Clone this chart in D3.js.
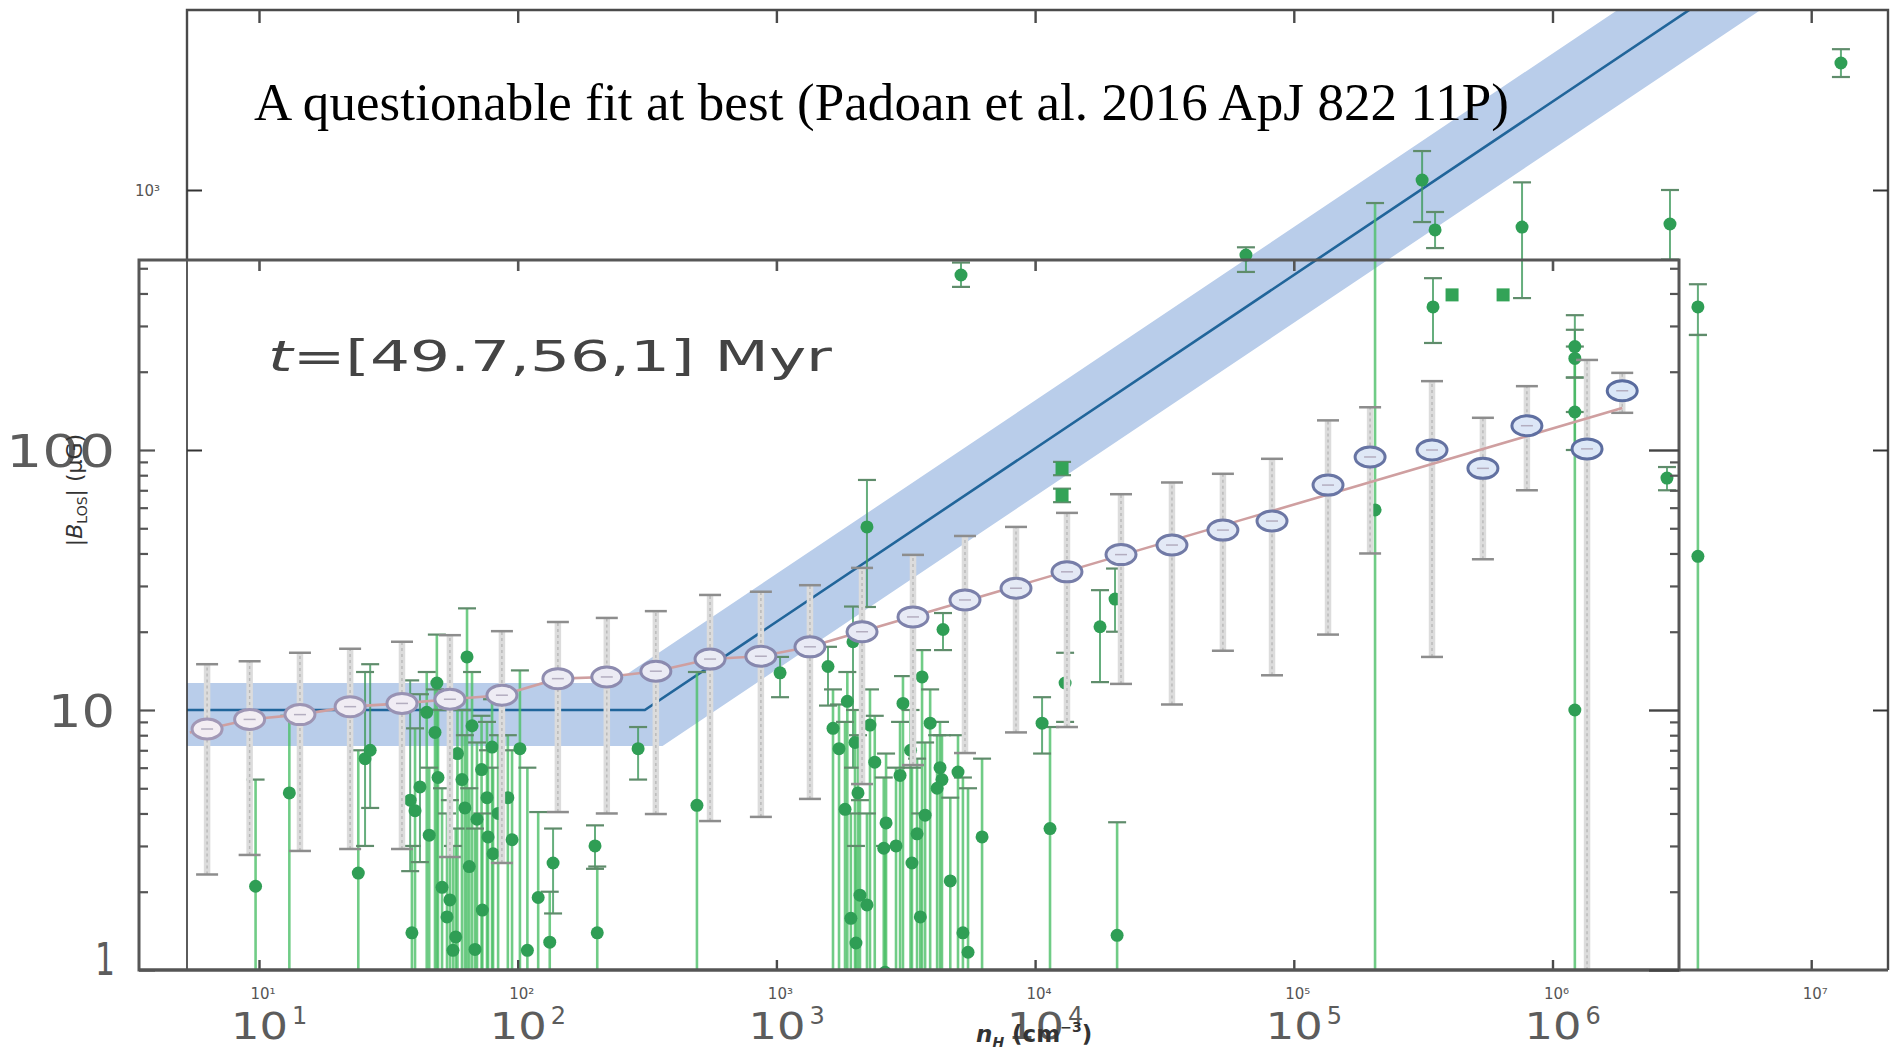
<!DOCTYPE html>
<html><head><meta charset="utf-8">
<script src="https://cdn.jsdelivr.net/npm/d3@7"></script>
<style>body{margin:0;background:#fff}svg{display:block}</style>
</head><body>
<svg id="c" width="1890" height="1055"></svg>
<script>
// ---------------- DATA ----------------
const xDecades = [10, 100, 1e3, 1e4, 1e5, 1e6, 1e7];
const xSmallLabels = ["10\u00B9","10\u00B2","10\u00B3","10\u2074","10\u2075","10\u2076","10\u2077"];
const xBigExps = ["1","2","3","4","5","6"];
const yBigValues = [1, 10, 100];
const yBigLabels = ["1","10","100"];
const yOuterLabelValues = [1000];
const yOuterLabels = ["10\u00B3"];
const yMinorTicks = [2,3,4,5,6,7,8,9,20,30,40,50,60,70,80,90,200,300,400,500];
const yMajorTicks = [1,10,100];

// binned simulation medians (n_H, |B_LOS|, lower, upper)
const binN  = [6.3,9.2,14.4,22.5,35.7,54.7,86.9,143,221,342,554,871,1348,2143,3373,5357,8437,13280,21480,33810,53210,82380,135600,197200,342200,538300,796300,1360000,1860000];
const binB  = [8.45,9.2,9.6,10.3,10.6,11.0,11.4,13.2,13.4,14.1,15.7,16.1,17.5,20.0,22.8,26.5,29.4,34.0,39.6,43.1,49.2,53.3,73.3,94,100,85,124,101,169];
const binLo = [2.33,2.77,2.87,2.92,2.92,2.72,2.58,4.05,4.0,3.98,3.74,3.88,4.55,5.19,6.14,6.83,8.2,8.6,12.6,10.5,16.9,13.6,19.5,40,16,38,70,0.5,139];
const binHi = [15.0,15.4,16.6,17.2,18.3,19.4,20.1,21.8,22.6,24.0,27.7,28.5,30.2,35.2,39.5,46.7,50.6,57.3,67.6,75,81,92.5,130,146,184,133,176,222,198];

// pink fit through the medians
const pinkN = [5.4,6.3,9.2,14.4,22.5,35.7,54.7,86.9,143,221,342,554,871,1348,1860000];
const pinkB = [8.2,8.45,9.2,9.6,10.3,10.6,11.0,11.4,13.2,13.4,14.1,15.7,16.1,17.5,145];

// Crutcher-type broken power law and its band
const fitN = [5, 310, 1e7];
const fitB = [10, 10, 10160];
const bandUpperN = [5, 235, 1e7];
const bandUpperB = [12.7, 12.7, 15550];
const bandLowerN = [5, 363, 1e7];
const bandLowerB = [7.27, 7.27, 6650];

// Zeeman observations (green)
const greenN  = [9.7,13.1,24.2,25.7,26.9,38.4,39,40.1,41.9,48.7,47.9,49.2,51,53.3,56.2,63.7,66.6,68.4,60.9,62.5,69.6,76.1,76.8,79.6,80.3,54.7,57.6,95.1,91.6,102,109,120,137,133,199,203,292,493,1033,2239,1583,1655,1746,1842,1977,2067,1940,2104,2239,2030,2300,2013,2654,2600,2630,3006,3085,3342,3497,3656,3757,3929,4290,4365,4181,5035,4406,5260,5505,6237,10640,11420,13060,17820,20750,20370,12710,12710,5171,65310,206100,313300,351600,345200,409000,644200,762500,1220000,1220000,1220000,1220000,2845000,3648000,3648000,13030000,2770000,
                 44.5,58.5,72.5,84,45.5,65,73,1880,2400,2900,3600,4700,3300];
const greenB  = [2.1,4.8,2.36,6.5,7.0,4.5,1.39,4.1,5.06,12.7,8.2,5.5,2.08,1.6,1.19,16.0,8.7,1.2,5.4,4.2,3.8,4.6,3.25,7.2,2.8,1.86,1.34,3.17,4.6,7.1,1.19,1.9,2.58,1.28,3.0,1.39,7.1,4.3,13.9,50.6,14.7,8.5,7.1,4.15,18.3,4.8,1.58,1.94,1.78,1.27,8.75,7.5,3.68,2.94,0.98,5.6,10.6,2.58,3.34,13.4,3.94,8.9,6.0,5.4,5.0,5.77,20.4,1.39,1.17,3.25,8.9,3.5,12.7,20.9,1.36,26.7,85,67,471,562,58.8,1092,702,355,395,395,720,250,225,140,10,740,355,39,3080,78,
                 9.8,6.8,5.9,4.0,3.3,2.5,1.7,10.8,6.3,3.0,1.6,2.2,7.0];
const greenLo = [0.5,0.5,0.5,3.0,4.2,2.4,0.5,0.5,2.6,0.5,0.5,0.5,0.5,0.5,0.5,0.5,0.5,0.5,0.5,0.5,0.5,0.5,0.5,0.5,0.5,0.5,0.5,0.5,0.5,0.5,0.5,0.5,1.65,0.5,2.45,0.5,5.4,0.5,11.2,24.9,10.4,0.5,0.5,0.5,6,0.5,0.5,0.5,0.5,0.5,0.5,0.5,0.5,0.5,0.5,0.5,0.5,0.5,0.5,0.5,0.5,0.5,0.5,0.5,0.5,0.5,17,0.5,0.5,0.5,6.8,0.5,9.0,12.8,0.5,20,80,63,424,484,0.5,753,598,258,395,395,384,190,140,100,0.5,540,277,0.5,2720,70,
                 0.5,0.5,0.5,0.5,0.5,0.5,0.5,0.5,0.5,0.5,0.5,0.5,0.5];
const greenHi = [5.4,9.5,7,14,15,13,3.0,8.5,11.5,19.5,12,10,5,4,3,24.6,14,3.5,10,8,7.5,9,7,11,6,4.5,3.5,7,8,14.2,6,4.05,3.5,2.0,3.6,2.5,8.6,14,16,76.7,17.5,12,10.5,9,25,8,4,4.5,4,3,12,10,6.8,5.5,3.0,9,13.5,6,6.5,17,7.5,12,9,8,8,8,23.6,5.5,5,6.5,11.2,8.6,16.6,28.9,3.7,35,90,71,526,602,891,1412,823,458,395,395,1070,330,290,190,250,1000,434,277,3480,86,
                 14,11,9.5,8,6,5,4,14,9.5,6,4,4.6,10];
const greenSquare = [76,77,84,85];

// texts
const titleText = "A questionable fit at best (Padoan et al. 2016 ApJ 822 11P)";
const timeText = "t=[49.7,56,1] Myr";

// ---------------- LAYOUT ----------------
const svg = d3.select("#c");
const x = d3.scaleLog().domain([10, 1e7]).range([259, 1811.2]);
const y = d3.scaleLog().domain([1, 1000]).range([970, 190]);
const outer = {l:187, r:1888, t:10, b:970};
const inner = {l:139, r:1679, t:260, b:970};

const defs = svg.append("defs");
defs.append("clipPath").attr("id","clipOuter").append("rect")
  .attr("x",outer.l).attr("y",outer.t).attr("width",outer.r-outer.l).attr("height",outer.b-outer.t);
defs.append("clipPath").attr("id","clipInner").append("rect")
  .attr("x",inner.l).attr("y",inner.t).attr("width",inner.r-inner.l).attr("height",inner.b-inner.t);

svg.append("rect").attr("width",1890).attr("height",1055).attr("fill","#fff");

const gO = svg.append("g").attr("clip-path","url(#clipOuter)");
// band
const bandPts = bandUpperN.map((n,i)=>[x(n), y(bandUpperB[i])])
  .concat(bandLowerN.map((n,i)=>[x(n), y(bandLowerB[i])]).reverse());
gO.append("path").attr("d", d3.line()(bandPts)+"Z").attr("fill","#b9cdea");
// fit line
gO.append("path").attr("d", d3.line().x((d,i)=>x(fitN[i])).y((d,i)=>y(fitB[i]))(fitN))
  .attr("fill","none").attr("stroke","#21659a").attr("stroke-width",2.6);

// green error bars
const gi = d3.range(greenN.length);
const gG = gO.append("g");
gG.selectAll("line.eb").data(gi.filter(i=>greenHi[i]>greenLo[i])).join("line")
  .attr("x1",i=>x(greenN[i])).attr("x2",i=>x(greenN[i]))
  .attr("y1",i=>y(greenLo[i])).attr("y2",i=>y(greenHi[i]))
  .attr("stroke",i=>greenLo[i]<0.6?"#4cbf68":"#3f9a5c").attr("stroke-opacity",0.8)
  .attr("stroke-width",i=>greenLo[i]<0.6?2.6:2);
const caps = [];
gi.forEach(i=>{ if(greenHi[i]>greenLo[i]){ caps.push([i,greenHi[i]]); if(greenLo[i]>=0.6) caps.push([i,greenLo[i]]); }});
gG.selectAll("line.cap").data(caps).join("line")
  .attr("x1",d=>x(greenN[d[0]])-9).attr("x2",d=>x(greenN[d[0]])+9)
  .attr("y1",d=>y(d[1])).attr("y2",d=>y(d[1]))
  .attr("stroke","#5f8c6b").attr("stroke-width",2.2);
gG.selectAll("circle").data(gi.filter(i=>!greenSquare.includes(i))).join("circle")
  .attr("cx",i=>x(greenN[i])).attr("cy",i=>y(greenB[i])).attr("r",6.5).attr("fill","#2f9e55");
gG.selectAll("rect").data(greenSquare).join("rect")
  .attr("x",i=>x(greenN[i])-6.5).attr("y",i=>y(greenB[i])-6.5).attr("width",13).attr("height",13).attr("fill","#33a357");

// gray error bars + medians
const gI = svg.append("g").attr("clip-path","url(#clipInner)");
const bi = d3.range(binN.length);
gI.selectAll("line.gb").data(bi).join("line")
  .attr("x1",i=>x(binN[i])).attr("x2",i=>x(binN[i])).attr("y1",i=>y(binLo[i])).attr("y2",i=>y(binHi[i]))
  .attr("stroke","#dcdcdc").attr("stroke-width",6.5);
gI.selectAll("line.gc").data(bi).join("line")
  .attr("x1",i=>x(binN[i])).attr("x2",i=>x(binN[i])).attr("y1",i=>y(binLo[i])).attr("y2",i=>y(binHi[i]))
  .attr("stroke","#b8b8b8").attr("stroke-width",1.4).attr("stroke-dasharray","3,3");
const gcaps = [];
bi.forEach(i=>{ gcaps.push([i,binHi[i]]); gcaps.push([i,binLo[i]]); });
gI.selectAll("line.gcap").data(gcaps).join("line")
  .attr("x1",d=>x(binN[d[0]])-11).attr("x2",d=>x(binN[d[0]])+11)
  .attr("y1",d=>y(d[1])).attr("y2",d=>y(d[1]))
  .attr("stroke","#8d8d8d").attr("stroke-width",2.5);
gI.append("path").attr("d", d3.line().x((d,i)=>x(pinkN[i])).y((d,i)=>y(pinkB[i]))(pinkN))
  .attr("fill","none").attr("stroke","#cf9fa0").attr("stroke-width",2.6);
const strokeC = d3.interpolateRgb("#a298b6","#5a6c9f");
const fillC = d3.interpolateRgb("#f3edf3","#dbe7f7");
gI.selectAll("ellipse").data(bi).join("ellipse")
  .attr("cx",i=>x(binN[i])).attr("cy",i=>y(binB[i])).attr("rx",15).attr("ry",10)
  .attr("fill",i=>fillC(i/(binN.length-1))).attr("stroke",i=>strokeC(i/(binN.length-1))).attr("stroke-width",3);
gI.selectAll("line.mid").data(bi).join("line")
  .attr("x1",i=>x(binN[i])-6).attr("x2",i=>x(binN[i])+6).attr("y1",i=>y(binB[i])).attr("y2",i=>y(binB[i]))
  .attr("stroke","#b3adbf").attr("stroke-width",1.5);

// ---------------- FRAMES & TICKS ----------------
function ticks(axis, tr, color, w){
  const g = svg.append("g").attr("transform",tr).call(axis);
  g.select(".domain").remove(); g.selectAll("text").remove();
  g.selectAll("line").attr("stroke",color).attr("stroke-width",w);
  return g;
}
// outer frame
svg.append("path").attr("d",`M${outer.l},${inner.t}V${outer.t}H${outer.r}V${outer.b}`)
  .attr("fill","none").attr("stroke","#4a4a4a").attr("stroke-width",2.4);
svg.append("line").attr("x1",outer.l).attr("x2",outer.l).attr("y1",inner.t).attr("y2",outer.b)
  .attr("stroke","#333").attr("stroke-width",1.6);
ticks(d3.axisBottom(x).tickValues(xDecades).tickSize(13).tickFormat(""), `translate(0,${outer.t})`, "#4a4a4a", 2.4);
ticks(d3.axisTop(x).tickValues(xDecades).tickSize(10).tickFormat(""), `translate(0,${outer.b})`, "#4a4a4a", 2.4);
ticks(d3.axisRight(y).tickValues([100,1000]).tickSize(15).tickFormat(""), `translate(${outer.l},0)`, "#333", 2);
ticks(d3.axisLeft(y).tickValues([10,100,1000]).tickSize(15).tickFormat(""), `translate(${outer.r},0)`, "#333", 2);
// inner frame
svg.append("rect").attr("x",inner.l).attr("y",inner.t).attr("width",inner.r-inner.l).attr("height",inner.b-inner.t)
  .attr("fill","none").attr("stroke","#575757").attr("stroke-width",3);
svg.append("line").attr("x1",inner.l).attr("x2",outer.r).attr("y1",outer.b).attr("y2",outer.b)
  .attr("stroke","#555").attr("stroke-width",3);
ticks(d3.axisRight(y).tickValues(yMajorTicks).tickSize(16).tickFormat(""), `translate(${inner.l},0)`, "#555", 2.2);
ticks(d3.axisRight(y).tickValues(yMinorTicks).tickSize(9).tickFormat(""), `translate(${inner.l},0)`, "#555", 2.2);
ticks(d3.axisLeft(y).tickValues(yMajorTicks).tickSize(30).tickFormat(""), `translate(${inner.r},0)`, "#444", 2.4);
ticks(d3.axisLeft(y).tickValues(yMinorTicks).tickSize(9).tickFormat(""), `translate(${inner.r},0)`, "#555", 2.2);
ticks(d3.axisBottom(x).tickValues(xDecades.slice(0,6)).tickSize(11).tickFormat(""), `translate(0,${inner.t})`, "#555", 2.6);

// ---------------- TEXT ----------------
const sans = "'DejaVu Sans', Verdana, sans-serif";
// title
svg.append("text").attr("x",254).attr("y",120).attr("font-family","'Liberation Serif','Times New Roman',serif")
  .attr("font-size",53).attr("fill","#000").attr("textLength",1255).attr("lengthAdjust","spacing").text(titleText);
// time label
const tt = svg.append("text").attr("x",268).attr("y",371).attr("font-family",sans).attr("font-size",42)
  .attr("fill","#444").attr("textLength",564).attr("lengthAdjust","spacingAndGlyphs");
tt.append("tspan").attr("font-style","italic").text(timeText[0]);
tt.append("tspan").text(timeText.slice(1));
// outer small labels
svg.selectAll("text.ox").data(xDecades).join("text")
  .attr("x",d=>x(d)+4).attr("y",999).attr("text-anchor","middle").attr("font-family",sans)
  .attr("font-size",15).attr("fill","#555").text((d,i)=>xSmallLabels[i]);
svg.selectAll("text.oy").data(yOuterLabelValues).join("text")
  .attr("x",160).attr("y",d=>y(d)+6).attr("text-anchor","end").attr("font-family",sans)
  .attr("font-size",15).attr("fill","#555").text((d,i)=>yOuterLabels[i]);
// big x labels
const bx = xDecades.slice(0,6);
svg.selectAll("text.bx").data(bx).join("text")
  .attr("x",d=>x(d)-28).attr("y",1039).attr("font-family",sans).attr("font-size",37)
  .attr("fill","#5c5c5c").attr("textLength",57).attr("lengthAdjust","spacingAndGlyphs").text("10");
svg.selectAll("text.bxe").data(bx).join("text")
  .attr("x",d=>x(d)+33).attr("y",1024).attr("font-family",sans).attr("font-size",24)
  .attr("fill","#5c5c5c").text((d,i)=>xBigExps[i]);
// big y labels
svg.selectAll("text.by").data(yBigValues).join("text")
  .attr("x",115).attr("y",d=>Math.min(y(d)+17,975)).attr("text-anchor","end").attr("font-family",sans)
  .attr("font-size",44).attr("fill","#5c5c5c")
  .attr("textLength",(d,i)=>[20,67,109][i]).attr("lengthAdjust","spacingAndGlyphs")
  .text((d,i)=>yBigLabels[i]);
// y axis title
const yt = svg.append("text").attr("transform","translate(82,490) rotate(-90)").attr("text-anchor","middle")
  .attr("font-family",sans).attr("font-size",22).attr("fill","#333");
yt.append("tspan").text("|");
yt.append("tspan").attr("font-style","italic").text("B");
yt.append("tspan").attr("font-size",14).attr("dy",5).text("LOS");
yt.append("tspan").attr("dy",-5).text("| (\u03BCG)");
// x axis title
const xt = svg.append("text").attr("x",976).attr("y",1042).attr("font-family",sans).attr("font-size",23)
  .attr("font-weight","bold").attr("fill","#333");
xt.append("tspan").attr("font-style","italic").text("n");
xt.append("tspan").attr("font-style","italic").attr("font-size",14).attr("dy",5).text("H");
xt.append("tspan").attr("dy",-5).text(" (cm");
xt.append("tspan").attr("font-size",14).attr("dy",-10).text("\u22123");
xt.append("tspan").attr("dy",10).text(")");
</script>
</body></html>
